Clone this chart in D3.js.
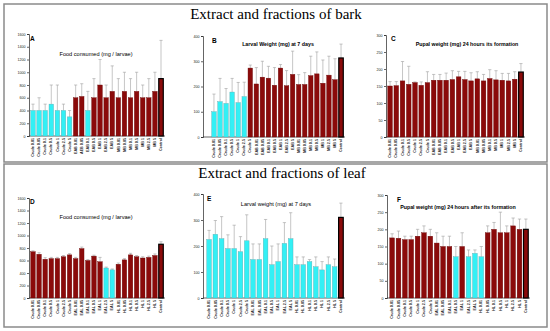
<!DOCTYPE html>
<html>
<head>
<meta charset="utf-8">
<script src="https://cdn.jsdelivr.net/npm/d3@7"></script>
<style>
  body { margin: 0; background: #fff; }
  svg { display: block; }
</style>
</head>
<body>
<div id="chart"></div>
<script>
// categories
var barkCatsA = ["Crude 0.01", "Crude 0.05", "Crude 0.1", "Crude 0.5", "Crude 1", "Crude 2.5", "Crude 5",
  "EAB 0.01", "AEB 0.05", "EAB 0.1", "EAB 0.5", "EAB 1", "EAB 2.5", "EAB 5",
  "MB 0.01", "MB 0.05", "MB 0.1", "MB 0.5", "MB 1", "MB 2.5", "MB 5", "Control"];
var barkCats = ["Crude 0.01", "Crude 0.05", "Crude 0.1", "Crude 0.5", "Crude 1", "Crude 2.5", "Crude 5",
  "EAB 0.01", "EAB 0.05", "EAB 0.1", "EAB 0.5", "EAB 1", "EAB 2.5", "EAB 5",
  "MB 0.01", "MB 0.05", "MB 0.1", "MB 0.5", "MB 1", "MB 2.5", "MB 5", "Control"];
var leafCats = ["Crude 0.01", "Crude 0.05", "Crude 0.1", "Crude 0.5", "Crude 1", "Crude 2.5", "Crude 5",
  "EAL 0.01", "EAL 0.05", "EAL 0.1", "EAL 0.5", "EAL 1", "EAL 2.5", "EAL 5",
  "HL 0.01", "HL 0.05", "HL 0.1", "HL 0.5", "HL 1", "HL 2.5", "HL 5", "Control"];

// tick labels
var foodTicks = [0, 200, 400, 600, 800, 1000, 1200, 1400, 1600];
var larvalTicks = [0, 100, 200, 300, 400];
var pupalTicks = [0, 50, 100, 150, 200, 250, 300];

// A - bark, food consumed
var aValues = [400, 400, 400, 500, 400, 400, 300, 600, 620, 400, 600, 800, 600, 700, 600, 700, 600, 700, 600, 600, 700, 900];
var aErrTop = [500, 600, 500, 800, 800, 500, 400, 800, 820, 700, 900, 1200, 800, 1100, 900, 1000, 900, 1000, 800, 900, 1000, 1500];
var aActive = [1, 1, 1, 1, 1, 1, 1, 0, 0, 1, 0, 0, 0, 0, 0, 0, 0, 0, 0, 0, 0, 0];

// B - bark, larval weight
var bValues = [100, 140, 133, 178, 136, 160, 273, 210, 237, 233, 205, 273, 203, 248, 208, 208, 243, 250, 213, 245, 227, 313];
var bErrTop = [170, 232, 192, 232, 216, 217, 285, 275, 300, 280, 275, 287, 263, 340, 247, 255, 320, 337, 305, 320, 310, 368];
var bActive = [1, 1, 1, 1, 1, 1, 0, 0, 0, 0, 0, 0, 0, 0, 0, 0, 0, 0, 0, 0, 0, 0];

// C - bark, pupal weight
var cValues = [150, 151, 165, 155, 160, 152, 160, 167, 167, 167, 169, 177, 169, 165, 171, 165, 172, 168, 167, 165, 170, 191];
var cErrTop = [163, 163, 222, 208, 162, 162, 192, 184, 184, 188, 195, 193, 193, 189, 192, 184, 198, 195, 187, 187, 192, 216];
var cActive = [0, 0, 0, 0, 0, 0, 0, 0, 0, 0, 0, 0, 0, 0, 0, 0, 0, 0, 0, 0, 0, 0];

// D - leaf, food consumed
var dValues = [740, 700, 620, 630, 630, 660, 690, 630, 790, 600, 670, 580, 480, 450, 540, 610, 690, 660, 640, 650, 680, 860];
var dErrTop = [755, 725, 645, 650, 650, 680, 710, 650, 815, 615, 685, 650, 495, 465, 560, 630, 715, 680, 660, 670, 705, 900];
var dActive = [0, 0, 0, 0, 0, 0, 0, 0, 0, 0, 0, 0, 1, 1, 0, 0, 0, 0, 0, 0, 0, 0];

// E - leaf, larval weight
var eValues = [225, 245, 228, 190, 190, 178, 220, 148, 148, 228, 128, 140, 210, 228, 128, 128, 140, 120, 108, 128, 120, 310];
var eErrTop = [260, 298, 313, 243, 280, 236, 320, 208, 208, 302, 200, 208, 290, 328, 158, 158, 148, 158, 140, 158, 150, 365];
var eActive = [1, 1, 1, 1, 1, 1, 1, 1, 1, 1, 1, 1, 1, 1, 1, 1, 1, 1, 1, 1, 1, 0];

// F - leaf, pupal weight
var fValues = [175, 174, 170, 170, 180, 190, 180, 160, 150, 150, 120, 150, 120, 130, 120, 190, 200, 190, 190, 210, 200, 200];
var fErrTop = [187, 195, 180, 180, 200, 210, 200, 190, 180, 180, 150, 190, 140, 140, 150, 210, 220, 250, 210, 233, 230, 230];
var fActive = [0, 0, 0, 0, 0, 0, 0, 0, 0, 0, 1, 0, 1, 1, 1, 0, 0, 0, 0, 0, 0, 0];

var width = 550, height = 331;

var svg = d3.select("#chart").append("svg")
  .attr("width", width)
  .attr("height", height);

// frames for the two halves
svg.append("rect").attr("x", 4).attr("y", 4).attr("width", 543).attr("height", 158)
  .attr("fill", "none").attr("stroke", "#8a8a8a").attr("stroke-width", 1.5);
svg.append("rect").attr("x", 4).attr("y", 164).attr("width", 543).attr("height", 163)
  .attr("fill", "none").attr("stroke", "#8a8a8a").attr("stroke-width", 1.5);

svg.append("text").attr("x", 276).attr("y", 19)
  .attr("text-anchor", "middle")
  .style("font-family", "'Liberation Serif', serif").style("font-size", "15px")
  .text("Extract and fractions of bark");
svg.append("text").attr("x", 282).attr("y", 178)
  .attr("text-anchor", "middle")
  .style("font-family", "'Liberation Serif', serif").style("font-size", "15px")
  .text("Extract and fractions of leaf");

var panels = [
  { cats: barkCatsA, values: aValues, err: aErrTop, active: aActive, ticks: foodTicks,
    axisX: 29, left: 30, right: 164, top: 34, bottom: 136,
    letter: "A", lx: 30, ly: 41, title: "Food consumed (mg / larvae)", tx: 96, ty: 56, bold: false },
  { cats: barkCats, values: bValues, err: bErrTop, active: bActive, ticks: larvalTicks,
    axisX: 203, left: 211, right: 344, top: 36, bottom: 137,
    letter: "B", lx: 212, ly: 43, title: "Larval Weight (mg) at 7 days", tx: 278, ty: 46, bold: true },
  { cats: barkCats, values: cValues, err: cErrTop, active: cActive, ticks: pupalTicks,
    axisX: 386, left: 387, right: 524, top: 35, bottom: 137,
    letter: "C", lx: 391, ly: 41, title: "Pupal weight (mg) 24 hours its formation", tx: 467, ty: 46, bold: true },
  { cats: leafCats, values: dValues, err: dErrTop, active: dActive, ticks: foodTicks,
    axisX: 29, left: 30, right: 164, top: 198, bottom: 298,
    letter: "D", lx: 30, ly: 204, title: "Food consumed (mg / larvae)", tx: 96, ty: 219, bold: false },
  { cats: leafCats, values: eValues, err: eErrTop, active: eActive, ticks: larvalTicks,
    axisX: 203, left: 206, right: 344, top: 194, bottom: 298,
    letter: "E", lx: 207, ly: 201, title: "Larval weight (mg) at 7 days", tx: 276, ty: 206, bold: false },
  { cats: leafCats, values: fValues, err: fErrTop, active: fActive, ticks: pupalTicks,
    axisX: 387, left: 389, right: 529, top: 195, bottom: 298,
    letter: "F", lx: 397, ly: 202, title: "Pupal weight (mg) 24 hours after its formation", tx: 458, ty: 209, bold: true }
];

panels.forEach(drawPanel);

function drawPanel(p) {
  var g = svg.append("g");

  var y = d3.scaleLinear()
    .domain([0, p.ticks[p.ticks.length - 1]])
    .range([p.bottom, p.top]);

  var x = d3.scaleBand()
    .domain(p.cats)
    .range([p.left, p.right])
    .paddingInner(0.26)
    .paddingOuter(0.12);

  var axis = g.append("g")
    .attr("transform", "translate(" + p.axisX + ",0)")
    .call(d3.axisLeft(y).tickValues(p.ticks).tickFormat(d3.format("d")).tickSize(2).tickPadding(1.5));
  axis.selectAll("text")
    .style("font-family", "Arial, 'Liberation Sans', sans-serif")
    .style("font-size", "3.6px")
    .attr("fill", "#222");
  axis.selectAll("path, line").attr("stroke", "#222").attr("stroke-width", 0.7);

  g.append("line")
    .attr("x1", p.axisX).attr("x2", p.right + 1)
    .attr("y1", y(0)).attr("y2", y(0))
    .attr("stroke", "#222").attr("stroke-width", 0.7);

  var data = p.cats.map(function(c, i) {
    return { cat: c, v: p.values[i], e: p.err[i], on: p.active[i], ctrl: c === "Control" };
  });

  var bw = x.bandwidth();

  // error bars
  g.selectAll(".err").data(data).enter().append("path")
    .attr("fill", "none")
    .attr("stroke", "#a0a0a0")
    .attr("stroke-width", 0.6)
    .attr("d", function(d) {
      var cx = x(d.cat) + bw / 2;
      return "M" + cx + "," + y(d.v) + "V" + y(d.e) + "M" + (cx - bw * 0.35) + "," + y(d.e) + "H" + (cx + bw * 0.35);
    });

  g.selectAll(".bar").data(data).enter().append("rect")
    .attr("x", function(d) { return x(d.cat); })
    .attr("y", function(d) { return y(d.v); })
    .attr("width", bw)
    .attr("height", function(d) { return y(0) - y(d.v); })
    .attr("fill", function(d) { return d.on ? "#33f0f5" : "#8b0a0a"; })
    .attr("stroke", function(d) { return d.ctrl ? "#000" : (d.on ? "#5aaab0" : "#6a0505"); })
    .attr("stroke-width", function(d) { return d.ctrl ? 1.2 : 0.4; });

  g.selectAll(".lbl").data(data).enter().append("text")
    .attr("transform", function(d) {
      return "translate(" + (x(d.cat) + bw / 2 + 1.2) + "," + (y(0) + 2) + ")rotate(-90)";
    })
    .attr("text-anchor", "end")
    .style("font-family", "Arial, 'Liberation Sans', sans-serif")
    .style("font-size", "3.7px")
    .style("font-weight", "bold")
    .attr("fill", "#222")
    .text(function(d) { return d.cat; });

  g.append("text").attr("x", p.lx).attr("y", p.ly)
    .style("font-family", "Arial, 'Liberation Sans', sans-serif")
    .style("font-size", "6.5px").style("font-weight", "bold")
    .text(p.letter);

  g.append("text").attr("x", p.tx).attr("y", p.ty)
    .attr("text-anchor", "middle")
    .style("font-family", "Arial, 'Liberation Sans', sans-serif")
    .style("font-size", p.bold ? "5.3px" : "5.6px")
    .style("font-weight", p.bold ? "bold" : "normal")
    .text(p.title);
}
</script>
</body>
</html>
